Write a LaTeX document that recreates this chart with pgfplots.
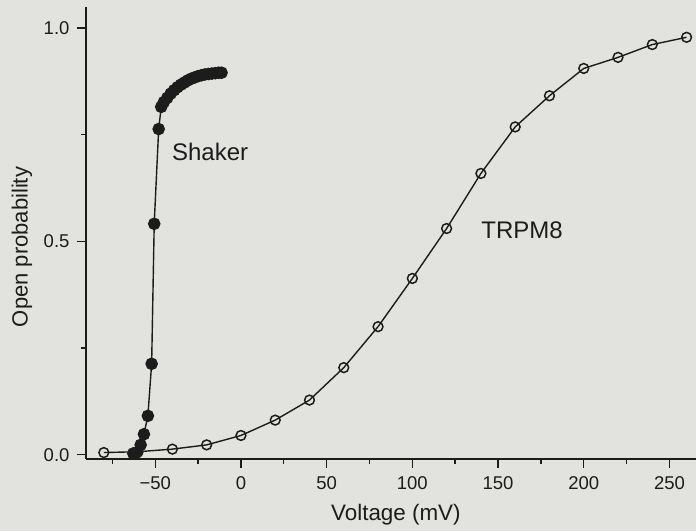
\documentclass[border=0pt]{standalone}
\usepackage{pgfplots}
\pgfplotsset{compat=1.18}
\usepackage{fontspec}
\setmainfont{Liberation Sans}
\definecolor{bg}{RGB}{226,226,223}
\definecolor{ink}{RGB}{28,28,28}
\begin{document}
\begin{tikzpicture}[x=1pt,y=1pt]
\fill[bg] (0,0) rectangle (696,531);
\useasboundingbox (0,0) rectangle (696,531);
\begin{axis}[
  at={(86pt,72.3pt)}, anchor=south west,
  scale only axis, width=610pt, height=451.7pt,
  xmin=-90.4, xmax=265.5, ymin=-0.0094, ymax=1.049,
  axis x line=bottom, axis y line=left,
  axis line style={-, line width=1.6pt, ink},
  tick align=outside,
  major tick length=9pt, minor tick length=5pt,
  every tick/.style={line width=1.4pt, ink},
  xtick={-50,0,50,100,150,200,250},
  xticklabels={−50,0,50,100,150,200,250},
  minor xtick={-75,-25,25,75,125,175,225},
  ytick={0,0.5,1},
  yticklabels={0.0,0.5,1.0},
  minor ytick={0.25,0.75},
  tick label style={font=\fontsize{18.5}{20}\selectfont, text=ink},
  xticklabel style={yshift=-5pt},
  yticklabel style={xshift=-4pt},
  xlabel={Voltage (mV)}, ylabel={Open probability},
  every axis x label/.style={at={(axis description cs:0.508,-0.1247)}, anchor=center, font=\fontsize{22.4}{25}\selectfont, text=ink},
  every axis y label/.style={at={(axis description cs:-0.105,0.4687)}, anchor=center, rotate=90, font=\fontsize{22}{25}\selectfont, text=ink},
  clip=false,
]
\addplot[ink, line width=1.4pt, mark=*, mark size=5.6pt, mark options={fill=ink, draw=ink}] coordinates {
(-62.8,0.003) (-60.9,0.005) (-58.5,0.023) (-56.6,0.048) (-54.3,0.091) (-52.1,0.213)
(-50.6,0.541) (-48.0,0.763) (-46.5,0.815) (-45,0.826) (-43,0.836) (-41,0.846)
(-39,0.854) (-37,0.861) (-35,0.867) (-33,0.872) (-31,0.877) (-29,0.881)
(-27,0.884) (-25,0.887) (-23,0.889) (-21,0.891) (-19,0.892) (-17,0.893)
(-15,0.894) (-13,0.895) (-11.3,0.895)
};
\addplot[ink, line width=1.4pt, mark=o, mark size=4.9pt, mark options={fill=bg, draw=ink, line width=1.5pt}] coordinates {
(-80,0.005) (-60,0.007) (-40,0.013) (-20,0.023) (0,0.045) (20,0.081)
(40,0.128) (60,0.204) (80,0.300) (100,0.413) (120,0.530) (140,0.659)
(160,0.768) (180,0.841) (200,0.905) (220,0.931) (240,0.961) (260,0.978)
};
\node[font=\fontsize{24}{27}\selectfont, text=ink] at (axis cs:-18,0.71) {Shaker};
\node[font=\fontsize{24}{27}\selectfont, text=ink] at (axis cs:164,0.527) {TRPM8};
\end{axis}
\end{tikzpicture}
\end{document}
